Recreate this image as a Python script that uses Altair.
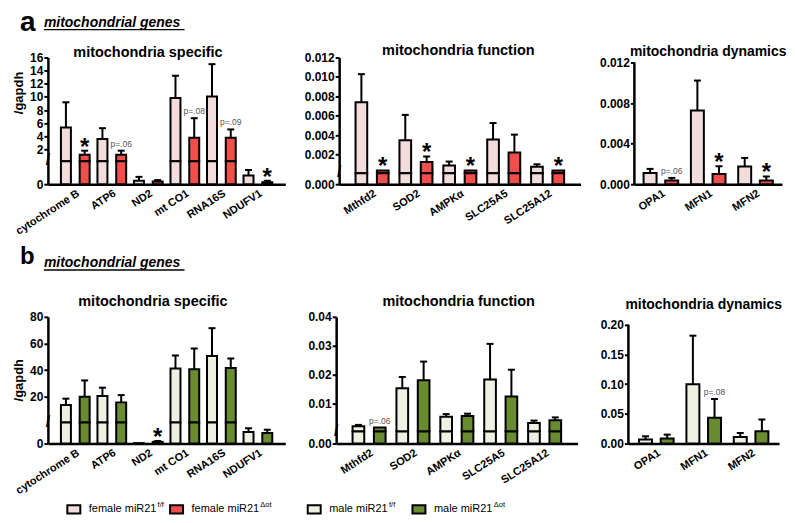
import altair as alt
import pandas as pd

FONT = "Liberation Sans"

# ---------------- data ----------------
section_title = "mitochondrial genes"
panel_titles = ["mitochondria specific", "mitochondria function", "mitochondria dynamics"]

genes_spec = ["cytochrome B", "ATP6", "ND2", "mt CO1", "RNA16S", "NDUFV1"]
genes_func = ["Mthfd2", "SOD2", "AMPKα", "SLC25A5", "SLC25A12"]
genes_dyn = ["OPA1", "MFN1", "MFN2"]

groups = ["female miR21 f/f", "female miR21 Δot", "male miR21 f/f", "male miR21 Δot"]
group_colors = ["#F2DCDC", "#F24F4C", "#EEF1E1", "#6A8C30"]
legend_base = ["female miR21", "female miR21", "male miR21", "male miR21"]
legend_sup = ["f/f", "Δot", "f/f", "Δot"]

# (a) female
a_spec_ff = [5.35, 3.58, 0.03, 9.84, 10.05, 0.076]
a_spec_ff_err = [3.83, 1.66, 0.034, 3.39, 4.94, 0.048]
a_spec_ko = [1.2, 1.2, 0.024, 3.78, 3.78, 0.018]
a_spec_ko_err = [0.61, 0.61, 0.012, 2.98, 1.27, 0.012]
a_spec_ann = ["*", "p=.06", "", "p=.08", "p=.09", "*"]

a_func_ff = [0.00739, 0.0035, 0.0009, 0.00356, 0.00077]
a_func_ff_err = [0.0029, 0.0026, 0.0004, 0.0017, 0.00025]
a_func_ko = [0.00039, 0.00125, 0.00039, 0.00223, 0.00039]
a_func_ko_err = [0.0, 0.00057, 0.0, 0.00184, 0.0]
a_func_ann = ["*", "*", "*", "", "*"]

a_dyn_ff = [0.00111, 0.00726, 0.00174]
a_dyn_ff_err = [0.0004, 0.00296, 0.00085]
a_dyn_ko = [0.00036, 0.00101, 0.00036]
a_dyn_ko_err = [0.00026, 0.00076, 0.0004]
a_dyn_ann = ["p=.06", "*", "*"]

# (b) male
b_spec_ff = [13.7, 20.45, 0.01, 41.2, 50.5, 0.275]
b_spec_ff_err = [4.8, 6.3, 0.0, 9.7, 21.0, 0.09]
b_spec_ko = [20.0, 15.7, 0.04, 40.7, 41.5, 0.25]
b_spec_ko_err = [12.2, 5.5, 0.02, 15.5, 7.2, 0.08]
b_spec_ann = ["", "", "*", "", "", ""]

b_func_ff = [0.00235, 0.0154, 0.00563, 0.0184, 0.00348]
b_func_ff_err = [0.00045, 0.0039, 0.0009, 0.0123, 0.0008]
b_func_ko = [0.00187, 0.0182, 0.00587, 0.0126, 0.00438]
b_func_ko_err = [0.0, 0.0064, 0.0008, 0.0092, 0.001]
b_func_ann = ["p=.06", "", "", "", ""]

b_dyn_ff = [0.0067, 0.10, 0.0111]
b_dyn_ff_err = [0.0055, 0.0817, 0.0067]
b_dyn_ko = [0.0083, 0.0433, 0.0205]
b_dyn_ko_err = [0.0067, 0.0317, 0.02]
b_dyn_ann = ["", "p=.08", ""]

ticks_spec_a = [2, 4, 6, 8, 10, 12, 14, 16]
ticks_func_a = [0.002, 0.004, 0.006, 0.008, 0.010, 0.012]
ticks_dyn_a = [0, 0.004, 0.008, 0.012]
ticks_spec_b = [20, 40, 60, 80]
ticks_func_b = [0.01, 0.02, 0.03, 0.04]
ticks_dyn_b = [0, 0.05, 0.10, 0.15, 0.20]


def table(genes, ff, ff_err, ko, ko_err, ann, g_ff, g_ko):
    rows = []
    for i, g in enumerate(genes):
        rows.append({"gene": g, "grp": g_ff, "v": ff[i], "err": ff_err[i], "ann": ""})
        rows.append({"gene": g, "grp": g_ko, "v": ko[i], "err": ko_err[i], "ann": ann[i]})
    return pd.DataFrame(rows)


FILL_SCALE = alt.Scale(domain=groups, range=group_colors)


def xaxis():
    return alt.Axis(title=None, ticks=False, labelAngle=-33, labelAlign="right",
                    labelBaseline="top", labelFont=FONT, labelFontSize=11,
                    labelFontWeight="bold", labelColor="black", labelPadding=3,
                    domainColor="black", domainWidth=2.5, labelOverlap=False)


def yaxis(values, fmt, title=None, domain=True, title_y=38):
    kw = dict(values=values, format=fmt, grid=False, domain=domain, domainColor="black",
              domainWidth=2.5, tickColor="black", tickWidth=2, tickSize=4,
              labelFont=FONT, labelFontSize=12, labelFontWeight="bold",
              labelColor="black", labelPadding=1)
    if title:
        kw.update(title=title, titleFont=FONT, titleFontSize=13, titleFontWeight="bold",
                  titleColor="black", titleY=title_y, titlePadding=4)
    else:
        kw.update(title=None)
    return alt.Axis(**kw)


def segment(df, genes, grps, lo, hi, dom_hi, height, width, geo, yvals, yfmt, ytitle,
            show_x, brk=False, title_y=38):
    po, bw, hp = geo
    base = alt.Chart(df).transform_calculate(top="datum.v + datum.err")
    xsc = alt.Scale(domain=genes, paddingInner=0, paddingOuter=po)
    x = alt.X("gene:N", sort=genes, scale=xsc, axis=xaxis() if show_x else None)
    ysc = alt.Scale(domain=[lo, dom_hi], nice=False, zero=False)
    own_line = dom_hi != hi
    yax = yaxis(yvals, yfmt, ytitle, domain=not own_line, title_y=title_y)

    def Y(f):
        return alt.Y(f, scale=ysc, axis=yax)

    layers = []
    for g, sgn in [(grps[0], -1), (grps[1], 1)]:
        off = sgn * hp
        b = base.transform_filter(alt.FieldEqualPredicate(field="grp", equal=g))
        layers.append(
            b.transform_filter(f"datum.v > {lo}")
            .transform_calculate(vt=f"min(datum.v, {hi})")
            .mark_bar(stroke="black", strokeWidth=2, width=bw, xOffset=off)
            .encode(x=x, y=Y("vt:Q"), y2=alt.datum(lo),
                    fill=alt.Fill("grp:N", scale=FILL_SCALE, legend=None)))
        layers.append(
            b.transform_filter(f"datum.err > 0 && datum.top > {lo} && datum.v < {hi}")
            .transform_calculate(e1=f"max(datum.v, {lo})", e2=f"min(datum.top, {hi})")
            .mark_rule(color="black", strokeWidth=2, xOffset=off)
            .encode(x=x, y=Y("e1:Q"), y2="e2:Q"))
        layers.append(
            b.transform_filter(f"datum.err > 0 && datum.top > {lo} && datum.top <= {hi}")
            .mark_tick(color="black", thickness=2, size=7, opacity=1, xOffset=off)
            .encode(x=x, y=Y("top:Q")))
        layers.append(
            b.transform_filter(f"datum.ann == '*' && datum.top > {lo} && datum.top <= {hi}")
            .mark_text(fontSize=24, font=FONT, fontWeight="bold", color="black",
                       baseline="alphabetic", dy=4, xOffset=off)
            .encode(x=x, y=Y("top:Q"), text="ann:N"))
        layers.append(
            b.transform_filter(f"datum.ann != '*' && datum.ann != '' && datum.top > {lo} && datum.top <= {hi}")
            .mark_text(fontSize=8.5, font=FONT, color="#555555", baseline="bottom", dy=-2,
                       xOffset=off)
            .encode(x=x, y=Y("top:Q"), text="ann:N"))
    one = base.transform_filter(alt.FieldEqualPredicate(field="gene", equal=genes[0])) \
              .transform_filter(alt.FieldEqualPredicate(field="grp", equal=grps[0]))
    if own_line:
        layers.append(one.mark_rule(color="black", strokeWidth=2.5).encode(
            x=alt.value(0), y=alt.YDatum(0, scale=ysc, axis=yax), y2=alt.datum(hi)))
    if brk:
        layers.append(one.mark_text(text="/", fontSize=16, fontWeight="bold", color="black",
                                    baseline="middle", dy=-1)
                      .encode(x=alt.value(0), y=alt.YDatum(lo, scale=ysc, axis=yax)))
    return alt.layer(*layers).properties(width=width, height=height)


def panel(df, genes, grps, title, W, geo, top, ticks, fmt, H=127, dom_top=None, B=None,
          Hu=None, lo_fmt=None, ytitle=None, tdx=0, toff=-1, frame="group", title_y=38,
          tsize=14.5):
    tp = alt.TitleParams(title, fontSize=tsize, fontWeight="bold", font=FONT, color="black",
                         anchor="middle", frame=frame, dx=tdx, offset=toff)
    if B is None:
        return segment(df, genes, grps, 0, top, dom_top or top, H, W, geo, ticks, fmt,
                       ytitle, True).properties(title=tp)
    up = segment(df, genes, grps, B, top, top, Hu, W, geo, ticks, fmt, ytitle, False,
                 brk=True, title_y=title_y)
    low = segment(df, genes, grps, 0, B, B, H - Hu, W, geo, [0], lo_fmt, None, True)
    return alt.vconcat(up, low, spacing=0, bounds="flush", title=tp)


GEO1 = (0.25, 10, 9.4)
GEO2 = (0.25, 11.7, 10.7)
GEO3a = (0.06, 13, 10.85)
GEO3b = (0.09, 13, 10.85)

fa = [groups[0], groups[1]]
ma = [groups[2], groups[3]]

pa1 = panel(table(genes_spec, a_spec_ff, a_spec_ff_err, a_spec_ko, a_spec_ko_err, a_spec_ann, *fa),
            genes_spec, fa, panel_titles[0], 238, GEO1, 16, ticks_spec_a, "d",
            B=0.2, Hu=104, lo_fmt="d", ytitle="/gapdh", tdx=-1, toff=-8.5,
            frame="bounds", title_y=35)
pa2 = panel(table(genes_func, a_func_ff, a_func_ff_err, a_func_ko, a_func_ko_err, a_func_ann, *fa),
            genes_func, fa, panel_titles[1], 242, GEO2, 0.012, ticks_func_a, ".3f",
            B=0.0001, Hu=116, lo_fmt=".3f", tdx=16, toff=-7, frame="bounds")
pa3 = panel(table(genes_dyn, a_dyn_ff, a_dyn_ff_err, a_dyn_ko, a_dyn_ko_err, a_dyn_ann, *fa),
            genes_dyn, fa, panel_titles[2], 148, GEO3a, 0.012, ticks_dyn_a, ".3f",
            dom_top=0.01249, toff=-2.5, tsize=14)

pb1 = panel(table(genes_spec, b_spec_ff, b_spec_ff_err, b_spec_ko, b_spec_ko_err, b_spec_ann, *ma),
            genes_spec, ma, panel_titles[0], 238, GEO1, 80, ticks_spec_b, "d",
            B=0.5, Hu=106, lo_fmt="d", ytitle="/gapdh", tdx=4, toff=1, frame="bounds",
            title_y=63)
pb2 = panel(table(genes_func, b_func_ff, b_func_ff_err, b_func_ko, b_func_ko_err, b_func_ann, *ma),
            genes_func, ma, panel_titles[1], 242, GEO2, 0.04, ticks_func_b, ".2f",
            B=0.0005, Hu=115, lo_fmt=".2f", tdx=16, toff=1, frame="bounds")
pb3 = panel(table(genes_dyn, b_dyn_ff, b_dyn_ff_err, b_dyn_ko, b_dyn_ko_err, b_dyn_ann, *ma),
            genes_dyn, ma, panel_titles[2], 151, GEO3b, 0.2, ticks_dyn_b, ".2f",
            dom_top=0.2134, toff=4.5, tsize=14)


def header(letter, h, ly, ty, lsize, lx):
    base = alt.Chart(pd.DataFrame({"k": [letter], "t": [section_title]}))
    let = base.mark_text(fontSize=lsize, fontWeight="bold", font=FONT, align="left",
                         baseline="alphabetic", color="black").encode(
        text="k:N", x=alt.value(lx), y=alt.value(ly))
    sub = base.mark_text(fontSize=14, fontStyle="italic", fontWeight="bold", font=FONT,
                         align="left", baseline="alphabetic", color="black").encode(
        text="t:N", x=alt.value(-4), y=alt.value(ty))
    und = base.mark_rule(strokeWidth=1.3, color="black").encode(
        x=alt.value(-4), x2=alt.value(137), y=alt.value(ty + 3))
    return alt.layer(let, sub, und).properties(width=600, height=h)


def legend_chart():
    ldf = pd.DataFrame({"grp": groups, "base": legend_base, "sup": legend_sup,
                        "sex": ["f", "f", "m", "m"]})
    layers = []
    for sex, dom, rng, supdx in [("f", groups[:2], [26, 129], 84), ("m", groups[2:], [267, 372], 75)]:
        b = alt.Chart(ldf).transform_filter(f"datum.sex == '{sex}'")
        xx = alt.X("grp:N", scale=alt.Scale(type="point", domain=dom, range=rng, padding=0),
                   axis=None)
        sym = b.mark_point(shape="M-1,-0.62H1V0.62H-1Z", size=169, filled=True, opacity=1,
                           stroke="black", strokeWidth=2).encode(
            x=xx, y=alt.value(13), fill=alt.Fill("grp:N", scale=FILL_SCALE, legend=None))
        t1 = b.mark_text(align="left", baseline="middle", dx=15, fontSize=11, font=FONT,
                         color="black").encode(x=xx, y=alt.value(13), text="base:N")
        t2 = b.mark_text(align="left", baseline="middle", dx=supdx, dy=-4, fontSize=7.5,
                         font=FONT, color="black").encode(x=xx, y=alt.value(13), text="sup:N")
        layers.append(alt.layer(sym, t1, t2))
    return alt.layer(*layers).resolve_scale(x="independent").properties(width=600, height=18)


rowA = alt.hconcat(pa1, pa2, pa3, spacing=18)
rowB = alt.hconcat(pb1, pb2, pb3, spacing=22)

chart = alt.vconcat(header("a", 32, 20, 16, 28, -28), rowA, header("b", 57, 27, 30, 24, -28),
                    rowB, legend_chart(), spacing=0).properties(
    padding={"left": 4, "top": 0, "right": 0, "bottom": 0}
).configure(font=FONT).configure_view(stroke=None)

chart.save("out.html", embed_options={"renderer": "svg", "actions": False})
